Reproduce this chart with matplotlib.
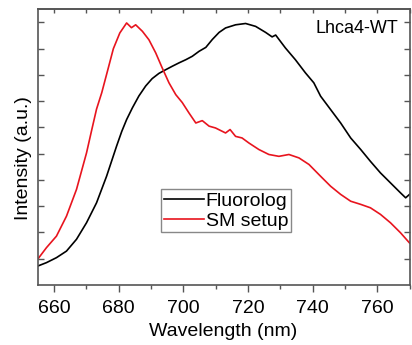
import numpy as np
import matplotlib
matplotlib.use('Agg')
import matplotlib.pyplot as plt
from matplotlib.ticker import MultipleLocator

plt.rcParams['font.family'] = ['Liberation Sans', 'DejaVu Sans']

# Fluorolog spectrum (normalised)
wl_fluo = [655, 657.7, 660.8, 663.9, 667, 670.1, 673.2, 676.3, 679.4, 681.0,
           682.5, 684.3, 686.3, 688.4, 690.4, 692.5, 694.6, 696.6, 698.7, 700.8,
           702.8, 704.9, 707, 709, 711.1, 713.1, 716.2, 719.3, 722.4, 725.5,
           727.5, 728.6, 731.6, 734.7, 737.8, 740.4, 742.5, 745.6, 748.7, 751.8,
           754.9, 757.9, 761, 764.1, 767.2, 768.8, 770]
int_fluo = [0.072, 0.085, 0.104, 0.129, 0.174, 0.237, 0.313, 0.414, 0.529, 0.585,
            0.630, 0.675, 0.720, 0.758, 0.786, 0.806, 0.820, 0.833, 0.846, 0.858,
            0.871, 0.890, 0.905, 0.935, 0.962, 0.979, 0.991, 0.996, 0.985, 0.962,
            0.945, 0.952, 0.903, 0.858, 0.808, 0.770, 0.719, 0.668, 0.617, 0.560,
            0.516, 0.471, 0.427, 0.389, 0.351, 0.332, 0.345]

# SM setup spectrum
wl_sm = [655, 657.7, 660.8, 663.9, 667, 670.1, 671.7, 673.2, 674.8, 676.8,
         678.4, 680.4, 682.5, 684, 685.3, 687.4, 689.4, 691.5, 693.5, 695.6,
         697.7, 699.7, 701.8, 703.9, 705.9, 708, 710, 713.1, 714.5, 716.2,
         718.2, 720.3, 723.4, 726.5, 729.6, 732.7, 735.8, 738.9, 742.5, 745.6,
         748.7, 751.8, 754.9, 757.9, 761, 764.1, 767.2, 770]
int_sm = [0.098, 0.142, 0.186, 0.262, 0.364, 0.503, 0.590, 0.670, 0.732, 0.825,
          0.900, 0.960, 0.998, 0.980, 0.991, 0.966, 0.934, 0.884, 0.827, 0.770,
          0.725, 0.695, 0.655, 0.617, 0.626, 0.605, 0.598, 0.579, 0.592, 0.566,
          0.560, 0.541, 0.516, 0.497, 0.490, 0.497, 0.484, 0.459, 0.414, 0.376,
          0.345, 0.319, 0.307, 0.294, 0.269, 0.237, 0.199, 0.160]

spine_col = '#555555'

fig = plt.figure(figsize=(4.12, 3.45), dpi=100)
ax = fig.add_axes([0.0915, 0.174, 0.9025, 0.799])

ax.plot(wl_fluo, int_fluo, color='black', lw=1.2, label='Fluorolog')
ax.plot(wl_sm, int_sm, color='#e8141e', lw=1.2, label='SM setup')

ax.set_xlim(655, 770)
ax.set_ylim(0, 1.05)
ax.set_xticks(np.arange(660, 771, 20))
ax.xaxis.set_minor_locator(MultipleLocator(10))
ax.set_yticks(np.arange(0.1, 1.01, 0.1))

ax.tick_params(axis='x', which='major', direction='out', length=5, width=1,
               color=spine_col, labelsize=14, pad=6)
ax.tick_params(axis='x', which='minor', direction='out', length=3, width=1,
               color=spine_col)
ax.tick_params(axis='y', direction='in', left=True, right=True, length=4,
               width=1, color=spine_col, labelleft=False)

secax = ax.secondary_xaxis('top')
secax.set_xticks(np.arange(660, 771, 20))
secax.xaxis.set_minor_locator(MultipleLocator(10))
secax.tick_params(which='both', direction='in', length=3, width=1,
                  color=spine_col, labeltop=False)
secax.spines['top'].set_color(spine_col)
secax.spines['top'].set_linewidth(1.2)

for s in ax.spines.values():
    s.set_color(spine_col)
    s.set_linewidth(1.2)

ax.set_xlabel('Wavelength (nm)', fontsize=14, labelpad=4)
ax.set_ylabel('Intensity (a.u.)', fontsize=14)
ax.yaxis.set_label_coords(-0.015, 0.46)

ax.text(0.97, 0.93, 'Lhca4-WT', transform=ax.transAxes, fontsize=13,
        ha='right', va='center')

leg = ax.legend(loc='upper left', bbox_to_anchor=(0.332, 0.348), fontsize=14,
                frameon=True, fancybox=False, framealpha=1, borderpad=0.15,
                handlelength=2.05, handletextpad=0.1, labelspacing=0.12,
                borderaxespad=0)
leg.get_frame().set_edgecolor('#888888')
leg.get_frame().set_linewidth(1)

fig.savefig('out.png', dpi=100)
